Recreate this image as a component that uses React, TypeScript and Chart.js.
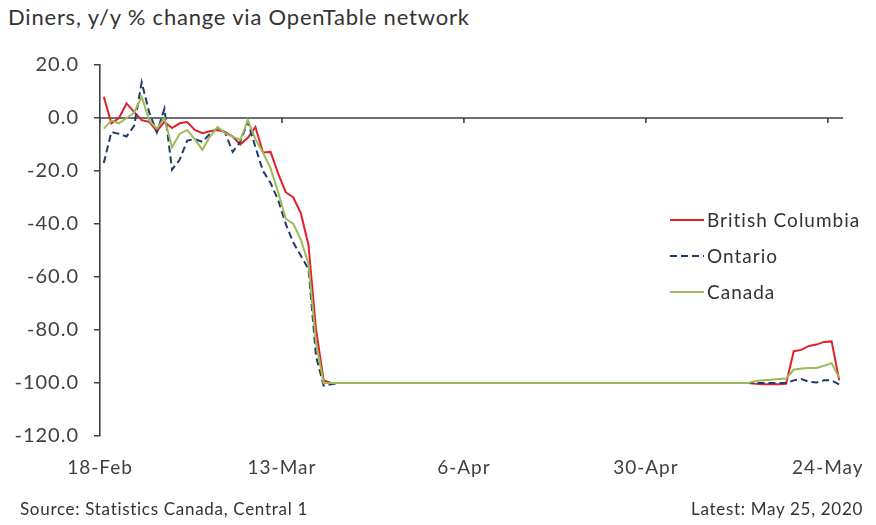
import React, { useEffect, useRef } from "react";
import { Chart, registerables } from "chart.js";

Chart.register(...registerables);

const FONT = "Lato, 'Open Sans', 'DejaVu Sans', sans-serif";
const TEXT = "#404040";

const tickDays = [0, 24, 48, 72, 96];
const tickLabels = ["18-Feb", "13-Mar", "6-Apr", "30-Apr", "24-May"];
const yTicks = [20, 0, -20, -40, -60, -80, -100, -120];

const seriesNames = ["British Columbia", "Ontario", "Canada"];

// Daily values, 18-Feb (index 0) to 25-May (index 97)
const britishColumbia = [
  8, -2, 0, 5.5, 2.3, -0.8, -1.5, -5, -1.5, -3.8,
  -2, -1.5, -4.5, -5.7, -5, -4.5, -5.3, -7, -10, -7.5,
  -3.4, -13, -12.8, -21, -28, -30, -36, -48, -80, -99,
  -100, -100, -100, -100, -100, -100, -100,
  -100, -100, -100, -100, -100, -100, -100,
  -100, -100, -100, -100, -100, -100, -100,
  -100, -100, -100, -100, -100, -100, -100,
  -100, -100, -100, -100, -100, -100, -100,
  -100, -100, -100, -100, -100, -100, -100,
  -100, -100, -100, -100, -100, -100, -100,
  -100, -100, -100, -100, -100, -100, -100,
  -100.3, -100.5, -100.5, -100.5, -100.3,
  -88, -87.5, -86, -85.5, -84.5, -84.3, -99,
];

const ontario = [
  -17, -5.3, -6, -7, -3, 13.5, 2, -5.5, 3.5, -19.5,
  -15.8, -8.5, -8, -9, -6, -3.8, -5.5, -12.8, -9, -1.5,
  -11, -20, -24.5, -31, -40, -47, -52, -57, -90, -101,
  -100.5, -100, -100, -100, -100, -100, -100,
  -100, -100, -100, -100, -100, -100, -100,
  -100, -100, -100, -100, -100, -100, -100,
  -100, -100, -100, -100, -100, -100, -100,
  -100, -100, -100, -100, -100, -100, -100,
  -100, -100, -100, -100, -100, -100, -100,
  -100, -100, -100, -100, -100, -100, -100,
  -100, -100, -100, -100, -100, -100, -100,
  -100, -100, -100, -100, -100,
  -99, -98.5, -99.5, -99.8, -99, -99, -100.5,
];

const canada = [
  -4, -1, -2, 0, 2, 8, -1, -4, 0, -11,
  -6, -4.5, -8, -12, -7, -3.4, -5.7, -7, -8.3, -0.8,
  -8, -13, -19, -28, -38, -40, -46, -55, -85, -100,
  -100, -100, -100, -100, -100, -100, -100,
  -100, -100, -100, -100, -100, -100, -100,
  -100, -100, -100, -100, -100, -100, -100,
  -100, -100, -100, -100, -100, -100, -100,
  -100, -100, -100, -100, -100, -100, -100,
  -100, -100, -100, -100, -100, -100, -100,
  -100, -100, -100, -100, -100, -100, -100,
  -100, -100, -100, -100, -100, -100, -100,
  -99.2, -99, -98.8, -98.5, -98.3,
  -95, -94.5, -94.3, -94.3, -93.5, -92.5, -98,
];

const toPoints = (arr: number[]) => arr.map((v, i) => ({ x: i + 0.5, y: v }));

const spacingPlugin = {
  id: "letterSpacing",
  beforeDraw(chart: any) {
    try {
      (chart.ctx as any).letterSpacing = "1px";
    } catch (e) {}
  },
};

const zeroAxisPlugin = {
  id: "zeroAxis",
  beforeDatasetsDraw(chart: any) {
    const { ctx, chartArea, scales } = chart;
    const y0 = scales.y.getPixelForValue(0);
    ctx.save();
    ctx.strokeStyle = TEXT;
    ctx.lineWidth = 1.6;
    ctx.beginPath();
    ctx.moveTo(chartArea.left, y0);
    ctx.lineTo(chartArea.right, y0);
    tickDays.forEach((d) => {
      const px = scales.x.getPixelForValue(d);
      ctx.moveTo(px, y0);
      ctx.lineTo(px, y0 + 5);
    });
    ctx.stroke();
    ctx.restore();
  },
};

const legendPlugin = {
  id: "insideLegend",
  afterDraw(chart: any) {
    const { ctx } = chart;
    const ys = [220, 256, 292];
    ctx.save();
    ctx.font = `19px ${FONT}`;
    try {
      (ctx as any).letterSpacing = "1px";
    } catch (e) {}
    ctx.textBaseline = "middle";
    chart.data.datasets.forEach((ds: any) => {
      const idx = seriesNames.indexOf(ds.label);
      const y = ys[idx];
      ctx.strokeStyle = ds.borderColor;
      ctx.lineWidth = ds.borderWidth;
      ctx.setLineDash(ds.borderDash || []);
      ctx.beginPath();
      ctx.moveTo(670, y);
      ctx.lineTo(704, y);
      ctx.stroke();
      ctx.setLineDash([]);
      ctx.fillStyle = "#333";
      ctx.fillText(ds.label, 707, y + 1);
    });
    ctx.restore();
  },
};

export default function App() {
  const ref = useRef<HTMLCanvasElement | null>(null);

  useEffect(() => {
    document.body.style.margin = "0";
    const canvas = ref.current;
    if (!canvas) return;
    const chart = new Chart(canvas, {
      type: "line",
      data: {
        datasets: [
          {
            label: seriesNames[0],
            data: toPoints(britishColumbia),
            borderColor: "#e2202c",
            borderWidth: 2,
            pointRadius: 0,
            tension: 0,
            order: 2,
          },
          {
            label: seriesNames[1],
            data: toPoints(ontario),
            borderColor: "#1f3a6b",
            borderWidth: 2,
            borderDash: [7, 4],
            pointRadius: 0,
            tension: 0,
            order: 1,
          },
          {
            label: seriesNames[2],
            data: toPoints(canada),
            borderColor: "#9bbb59",
            borderWidth: 2,
            pointRadius: 0,
            tension: 0,
            order: 0,
          },
        ],
      },
      options: {
        responsive: false,
        animation: false,
        devicePixelRatio: 1,
        layout: { padding: { left: 0, top: 65, right: 33, bottom: 0 } },
        plugins: {
          legend: { display: false },
          tooltip: { enabled: false },
          title: { display: false },
        },
        scales: {
          x: {
            type: "linear",
            min: 0,
            max: 98,
            afterBuildTicks(s: any) {
              s.ticks = tickDays.map((v) => ({ value: v }));
            },
            afterFit(s: any) {
              s.height = 89;
              s.paddingLeft = 0;
              s.paddingRight = 0;
            },
            ticks: {
              autoSkip: false,
              maxRotation: 0,
              padding: 20,
              color: TEXT,
              font: { family: FONT, size: 19 },
              callback: (v: any) => {
                const k = tickDays.indexOf(Number(v));
                return k >= 0 ? tickLabels[k] : "";
              },
            },
            grid: { display: false, drawTicks: false },
            border: { display: false },
          },
          y: {
            min: -120,
            max: 20,
            afterBuildTicks(s: any) {
              s.ticks = yTicks.map((v) => ({ value: v }));
            },
            afterFit(s: any) {
              s.width = 100;
              s.paddingTop = 0;
              s.paddingBottom = 0;
            },
            ticks: {
              padding: 15,
              color: TEXT,
              font: { family: FONT, size: 20 },
              callback: (v: any) => Number(v).toFixed(1),
            },
            grid: {
              drawOnChartArea: false,
              drawTicks: true,
              tickLength: 6,
              color: TEXT,
              lineWidth: 1.5,
            },
            border: { display: true, color: TEXT, width: 1.6 },
          },
        },
      },
      plugins: [spacingPlugin, zeroAxisPlugin, legendPlugin],
    } as any);
    return () => chart.destroy();
  }, []);

  return (
    <div style={{ position: "relative", width: 876, height: 525, background: "#fff", fontFamily: FONT, color: "#333" }}>
      <div style={{ position: "absolute", left: 8, top: 3, fontSize: 22, letterSpacing: "0.8px", whiteSpace: "nowrap" }}>
        Diners, y/y % change via OpenTable network
      </div>
      <canvas ref={ref} width={876} height={525} style={{ position: "absolute", left: 0, top: 0, width: 876, height: 525 }} />
      <div style={{ position: "absolute", left: 20, top: 498, fontSize: 17, letterSpacing: "0.7px", whiteSpace: "nowrap" }}>
        Source: Statistics Canada, Central 1
      </div>
      <div style={{ position: "absolute", right: 13, top: 498, fontSize: 17, letterSpacing: "0.7px", whiteSpace: "nowrap" }}>
        Latest: May 25, 2020
      </div>
    </div>
  );
}
